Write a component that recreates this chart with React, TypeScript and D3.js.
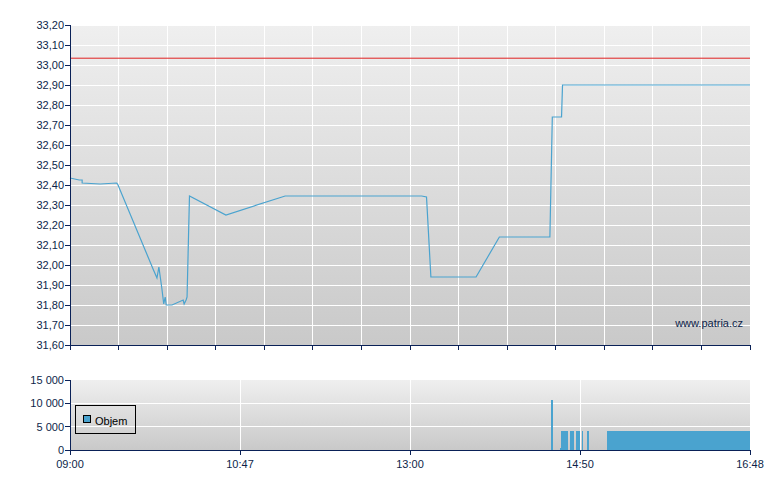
import React from 'react';
import * as d3 from 'd3';

// x axis is a trade-index axis (not linear in time): 0..140
const priceIndex = [0, 1.9, 2.5, 2.5, 6.2, 9.6, 9.8, 17.1, 17.9, 18.3, 18.9, 19.3, 19.6, 19.8, 21.0, 23.3, 23.5, 23.9, 24.1, 24.6, 32.1, 44.3, 72.4, 73.4, 74.3, 83.6, 88.4, 98.8, 99.3, 101.2, 101.4, 140];
const priceValues = [32.435, 32.425, 32.425, 32.41, 32.405, 32.41, 32.405, 31.98, 31.935, 31.99, 31.885, 31.805, 31.84, 31.8, 31.8, 31.825, 31.805, 31.825, 31.84, 32.345, 32.25, 32.345, 32.345, 32.34, 31.94, 31.94, 32.14, 32.14, 32.74, 32.74, 32.9, 32.9];
const previousClose = 33.034;

const volumeStart = [99.0, 100.9, 101.1, 103.0, 104.2, 105.4, 106.4, 110.6];
const volumeEnd = [99.4, 101.3, 102.6, 103.8, 105.1, 105.7, 106.9, 140];
const volumeValues = [10700, 400, 4100, 4100, 4100, 4100, 4100, 4100];

const priceTicks = d3.range(0, 17).map(i => +(31.6 + i * 0.1).toFixed(2));
const volumeTicks = [0, 5000, 10000, 15000];
const gridIndex = d3.range(0, 141, 10);
const labelIndex = [0, 35, 70, 105, 140];
const timeLabels = ['09:00', '10:47', '13:00', '14:50', '16:48'];

const W = 780;
const H = 490;
const left = 70;
const right = 750;
const axisColor = '#0a2157';
const textColor = '#0d1f4a';
const lineColor = '#4aa3cf';
const font = '"Liberation Sans", Arial, sans-serif';

export default function App() {
  const x = d3.scaleLinear().domain([0, 140]).range([left, right]);
  const y = d3.scaleLinear().domain([31.6, 33.2]).range([345, 25]);
  const yv = d3.scaleLinear().domain([0, 15000]).range([450, 380]);

  const line = d3.line<number>()
    .x((d, i) => x(priceIndex[i]))
    .y(d => y(d));

  const fmtPrice = (v: number) => v.toFixed(2).replace('.', ',');
  const fmtVol = (v: number) => d3.format(',')(v).replace(/,/g, ' ');

  return (
    <svg width={W} height={H} style={{ position: 'absolute', left: 0, top: 0, background: '#fff' }} fontFamily={font}>
      <defs>
        <linearGradient id="bgMain" x1="0" y1="0" x2="0" y2="1">
          <stop offset="0" stopColor="#efefef" />
          <stop offset="1" stopColor="#c9c9c9" />
        </linearGradient>
        <linearGradient id="bgVol" x1="0" y1="0" x2="0" y2="1">
          <stop offset="0" stopColor="#efefef" />
          <stop offset="1" stopColor="#c9c9c9" />
        </linearGradient>
      </defs>

      {/* main price panel */}
      <rect x={left} y={y(33.2)} width={right - left} height={y(31.6) - y(33.2)} fill="url(#bgMain)" />
      <g stroke="#fff" strokeWidth={1} shapeRendering="crispEdges">
        {priceTicks.slice(1).map(t => (
          <line key={'h' + t} x1={left} x2={right} y1={y(t)} y2={y(t)} />
        ))}
        {gridIndex.slice(1).map(g => (
          <line key={'v' + g} x1={x(g)} x2={x(g)} y1={y(33.2)} y2={y(31.6)} />
        ))}
      </g>
      <line x1={left} x2={right} y1={y(previousClose)} y2={y(previousClose)} stroke="#e02020" strokeWidth={1} />
      <path d={line(priceValues) || ''} fill="none" stroke={lineColor} strokeWidth={1.2} />
      <text x={743} y={327} textAnchor="end" fontSize={11} fill={textColor}>www.patria.cz</text>

      <g stroke={axisColor} strokeWidth={1} shapeRendering="crispEdges">
        <line x1={left} x2={left} y1={y(33.2)} y2={y(31.6)} />
        <line x1={left} x2={right} y1={y(31.6)} y2={y(31.6)} />
        {priceTicks.map(t => (
          <line key={'yt' + t} x1={left - 5} x2={left} y1={y(t)} y2={y(t)} />
        ))}
        {gridIndex.map(g => (
          <line key={'xt' + g} x1={x(g)} x2={x(g)} y1={y(31.6)} y2={y(31.6) + 5} />
        ))}
      </g>
      {priceTicks.map(t => (
        <text key={'yl' + t} x={left - 6} y={y(t)} dy="0.36em" textAnchor="end" fontSize={11} fill={textColor}>
          {fmtPrice(t)}
        </text>
      ))}

      {/* volume panel */}
      <rect x={left} y={yv(15000)} width={right - left} height={yv(0) - yv(15000)} fill="url(#bgVol)" />
      <g stroke="#fff" strokeWidth={1} shapeRendering="crispEdges">
        {volumeTicks.slice(1, -1).map(t => (
          <line key={'vh' + t} x1={left} x2={right} y1={yv(t)} y2={yv(t)} />
        ))}
        {labelIndex.slice(1, -1).map(g => (
          <line key={'vv' + g} x1={x(g)} x2={x(g)} y1={yv(15000)} y2={yv(0)} />
        ))}
      </g>
      <g fill={lineColor} shapeRendering="crispEdges">
        {volumeValues.map((v, i) => (
          <rect key={'b' + i} x={x(volumeStart[i])} width={x(volumeEnd[i]) - x(volumeStart[i])} y={yv(v)} height={yv(0) - yv(v)} />
        ))}
      </g>

      {/* legend */}
      <rect x={75.5} y={405.5} width={60} height={28} fill="none" stroke="#000" strokeWidth={1} />
      <rect x={83.5} y={415.5} width={7} height={7} fill={lineColor} stroke="#000" strokeWidth={1} />
      <text x={95} y={425} fontSize={11} fill="#000">Objem</text>

      <g stroke={axisColor} strokeWidth={1} shapeRendering="crispEdges">
        <line x1={left} x2={left} y1={yv(15000)} y2={yv(0)} />
        <line x1={left} x2={right} y1={yv(0)} y2={yv(0)} />
        {volumeTicks.map(t => (
          <line key={'vyt' + t} x1={left - 5} x2={left} y1={yv(t)} y2={yv(t)} />
        ))}
        {labelIndex.map(g => (
          <line key={'vxt' + g} x1={x(g)} x2={x(g)} y1={yv(0)} y2={yv(0) + 5} />
        ))}
      </g>
      {volumeTicks.map(t => (
        <text key={'vyl' + t} x={left - 6} y={yv(t)} dy="0.36em" textAnchor="end" fontSize={11} fill={textColor}>
          {fmtVol(t)}
        </text>
      ))}
      {labelIndex.map((g, i) => (
        <text key={'xl' + g} x={x(g)} y={468} textAnchor="middle" fontSize={11} fill={textColor}>
          {timeLabels[i]}
        </text>
      ))}
    </svg>
  );
}
